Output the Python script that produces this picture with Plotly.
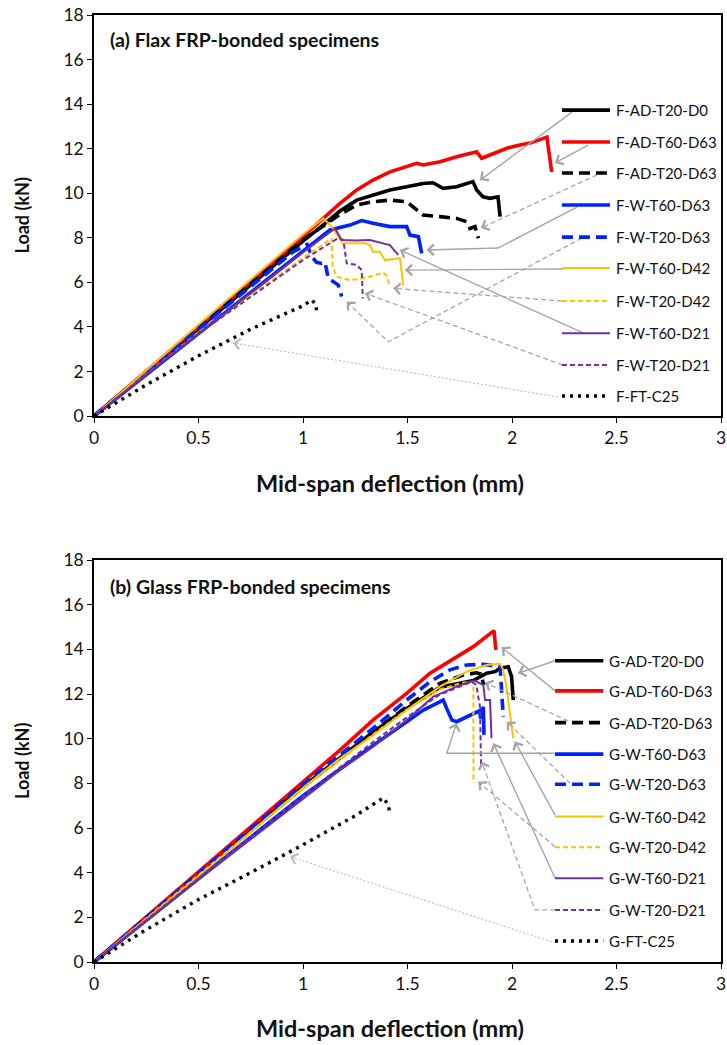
import math
import plotly.graph_objects as go

# ---------------- DATA ----------------
# Panel (a) Flax FRP-bonded specimens: mid-span deflection (mm) / load (kN)
f_ad_t20_d0_x = [0, 0.5, 1.0, 1.1, 1.177, 1.257, 1.335, 1.416, 1.496, 1.574, 1.622, 1.67, 1.735, 1.813, 1.831, 1.861, 1.895, 1.933, 1.943]
f_ad_t20_d0_y = [0, 3.95, 7.85, 8.6, 9.2, 9.69, 9.92, 10.14, 10.29, 10.44, 10.47, 10.22, 10.29, 10.52, 10.14, 9.84, 9.77, 9.84, 8.95]

f_ad_t60_d63_x = [0, 0.5, 1.0, 1.097, 1.177, 1.257, 1.335, 1.416, 1.496, 1.544, 1.574, 1.656, 1.735, 1.831, 1.855, 1.895, 1.975, 2.038, 2.086, 2.167, 2.19]
f_ad_t60_d63_y = [0, 4.0, 8.05, 8.87, 9.55, 10.15, 10.59, 10.96, 11.19, 11.34, 11.27, 11.41, 11.64, 11.86, 11.57, 11.71, 12.02, 12.16, 12.25, 12.52, 10.95]

f_ad_t20_d63_x = [0, 0.5, 1.0, 1.177, 1.257, 1.335, 1.416, 1.496, 1.544, 1.574, 1.656, 1.735, 1.783, 1.799, 1.823, 1.839]
f_ad_t20_d63_y = [0, 3.95, 7.9, 9.05, 9.47, 9.62, 9.69, 9.62, 9.25, 9.02, 8.95, 8.87, 8.72, 8.42, 8.50, 7.98]

f_w_t60_d63_x = [0, 0.5, 1.0, 1.129, 1.225, 1.281, 1.335, 1.416, 1.496, 1.512, 1.552, 1.568]
f_w_t60_d63_y = [0, 3.7, 7.4, 8.35, 8.57, 8.77, 8.65, 8.50, 8.50, 8.12, 8.05, 7.30]

f_w_t20_d63_x = [0, 0.5, 0.95, 1.02, 1.042, 1.065, 1.089, 1.105, 1.121, 1.144, 1.169, 1.185]
f_w_t20_d63_y = [0, 3.9, 7.35, 7.7, 7.15, 6.9, 6.85, 6.9, 6.18, 6.03, 5.88, 5.36]

f_w_t60_d42_x = [0, 0.5, 1.0, 1.097, 1.137, 1.177, 1.19, 1.273, 1.30, 1.32, 1.335, 1.368, 1.38, 1.392, 1.464, 1.48]
f_w_t60_d42_y = [0, 4.1, 8.15, 8.87, 8.50, 7.90, 7.75, 7.75, 7.75, 7.67, 7.37, 7.37, 7.2, 7.0, 7.08, 5.88]

f_w_t20_d42_x = [0, 0.5, 1.0, 1.137, 1.142, 1.161, 1.225, 1.289, 1.384, 1.40, 1.416]
f_w_t20_d42_y = [0, 3.75, 7.1, 7.97, 6.70, 6.25, 6.10, 6.18, 6.43, 6.3, 5.80]

f_w_t60_d21_x = [0, 0.5, 1.0, 1.153, 1.185, 1.25, 1.32, 1.416, 1.44, 1.456]
f_w_t60_d21_y = [0, 3.7, 7.35, 8.42, 7.90, 7.88, 7.9, 7.67, 7.4, 7.23]

f_w_t20_d21_x = [0, 0.5, 1.0, 1.17, 1.193, 1.209, 1.257, 1.281, 1.286]
f_w_t20_d21_y = [0, 3.7, 7.0, 8.0, 7.90, 6.85, 6.78, 6.55, 5.28]

f_ft_c25_x = [0, 0.25, 0.5, 0.75, 1.0, 1.042, 1.062, 1.066]
f_ft_c25_y = [0, 1.4, 2.7, 3.9, 4.95, 5.21, 5.0, 4.56]

# Panel (b) Glass FRP-bonded specimens
g_ad_t20_d0_x = [0, 0.5, 1.0, 1.336, 1.496, 1.655, 1.735, 1.815, 1.879, 1.919, 1.942, 1.982, 1.998, 2.006]
g_ad_t20_d0_y = [0, 3.95, 7.85, 10.3, 11.35, 12.3, 12.47, 12.6, 12.93, 13.0, 13.15, 13.22, 12.78, 11.73]

g_ad_t60_d63_x = [0, 0.5, 1.0, 1.177, 1.336, 1.496, 1.608, 1.735, 1.815, 1.914, 1.923]
g_ad_t60_d63_y = [0, 4.05, 8.1, 9.49, 10.84, 12.03, 12.93, 13.67, 14.12, 14.84, 13.97]

g_ad_t20_d63_x = [0, 0.5, 1.0, 1.336, 1.496, 1.655, 1.767, 1.83, 1.85, 1.865]
g_ad_t20_d63_y = [0, 3.95, 7.85, 10.31, 11.43, 12.48, 12.85, 12.95, 12.9, 12.4]

g_w_t60_d63_x = [0, 0.5, 1.0, 1.336, 1.496, 1.576, 1.64, 1.671, 1.69, 1.712, 1.735, 1.799, 1.831, 1.845, 1.85, 1.863, 1.866]
g_w_t60_d63_y = [0, 3.75, 7.45, 9.7, 10.75, 11.28, 11.58, 11.73, 11.3, 10.84, 10.76, 11.06, 11.21, 11.25, 10.9, 11.43, 10.17]

g_w_t20_d63_x = [0, 0.5, 1.0, 1.177, 1.336, 1.496, 1.608, 1.703, 1.783, 1.863, 1.943, 1.951, 1.958]
g_w_t20_d63_y = [0, 4.0, 7.95, 9.27, 10.47, 11.73, 12.55, 13.08, 13.30, 13.33, 13.22, 12.03, 10.99]

g_w_t60_d42_x = [0, 0.5, 1.0, 1.177, 1.336, 1.496, 1.655, 1.783, 1.878, 1.943, 1.955, 1.971, 2.006]
g_w_t60_d42_y = [0, 3.85, 7.8, 9.12, 10.16, 11.28, 12.33, 13.0, 13.30, 13.35, 13.15, 12.48, 10.02]

g_w_t20_d42_x = [0, 0.5, 1.0, 1.336, 1.496, 1.655, 1.76, 1.815, 1.816]
g_w_t20_d42_y = [0, 3.9, 7.75, 10.2, 11.3, 12.2, 12.5, 12.55, 8.0]

g_w_t60_d21_x = [0, 0.5, 1.0, 1.177, 1.336, 1.496, 1.624, 1.735, 1.799, 1.82, 1.863, 1.871, 1.895, 1.902]
g_w_t60_d21_y = [0, 3.7, 7.3, 8.60, 9.64, 10.84, 11.88, 12.33, 12.55, 12.6, 12.4, 11.73, 11.73, 10.02]

g_w_t20_d21_x = [0, 0.5, 1.0, 1.336, 1.496, 1.65, 1.807, 1.83, 1.838, 1.847, 1.852]
g_w_t20_d21_y = [0, 3.75, 7.45, 9.85, 10.95, 11.95, 12.55, 12.4, 11.9, 11.43, 8.75]

g_ft_c25_x = [0, 0.25, 0.5, 0.75, 1.0, 1.25, 1.385, 1.41, 1.413]
g_ft_c25_y = [0, 1.45, 2.8, 4.0, 5.25, 6.55, 7.35, 7.0, 6.73]

top_names = ["F-AD-T20-D0", "F-AD-T60-D63", "F-AD-T20-D63", "F-W-T60-D63", "F-W-T20-D63",
             "F-W-T60-D42", "F-W-T20-D42", "F-W-T60-D21", "F-W-T20-D21", "F-FT-C25"]
bot_names = ["G-AD-T20-D0", "G-AD-T60-D63", "G-AD-T20-D63", "G-W-T60-D63", "G-W-T20-D63",
             "G-W-T60-D42", "G-W-T20-D42", "G-W-T60-D21", "G-W-T20-D21", "G-FT-C25"]
top_series = [(f_ad_t20_d0_x, f_ad_t20_d0_y), (f_ad_t60_d63_x, f_ad_t60_d63_y), (f_ad_t20_d63_x, f_ad_t20_d63_y),
              (f_w_t60_d63_x, f_w_t60_d63_y), (f_w_t20_d63_x, f_w_t20_d63_y), (f_w_t60_d42_x, f_w_t60_d42_y),
              (f_w_t20_d42_x, f_w_t20_d42_y), (f_w_t60_d21_x, f_w_t60_d21_y), (f_w_t20_d21_x, f_w_t20_d21_y),
              (f_ft_c25_x, f_ft_c25_y)]
bot_series = [(g_ad_t20_d0_x, g_ad_t20_d0_y), (g_ad_t60_d63_x, g_ad_t60_d63_y), (g_ad_t20_d63_x, g_ad_t20_d63_y),
              (g_w_t60_d63_x, g_w_t60_d63_y), (g_w_t20_d63_x, g_w_t20_d63_y), (g_w_t60_d42_x, g_w_t60_d42_y),
              (g_w_t20_d42_x, g_w_t20_d42_y), (g_w_t60_d21_x, g_w_t60_d21_y), (g_w_t20_d21_x, g_w_t20_d21_y),
              (g_ft_c25_x, g_ft_c25_y)]

x_ticks = [0, 0.5, 1, 1.5, 2, 2.5, 3]
x_tick_labels = ["0", "0.5", "1", "1.5", "2", "2.5", "3"]
y_ticks = [0, 2, 4, 6, 8, 10, 12, 14, 16, 18]

# ---------------- STYLES ----------------
styles = [
    dict(color="#000000", width=3.6, dash="solid"),
    dict(color="#ff0000", width=3.6, dash="solid"),
    dict(color="#000000", width=3.6, dash="11px,6px"),
    dict(color="#0022ff", width=3.6, dash="solid"),
    dict(color="#0022ff", width=3.6, dash="11px,6px"),
    dict(color="#ffc000", width=2.0, dash="solid"),
    dict(color="#ffc000", width=2.0, dash="5px,3px"),
    dict(color="#7030a0", width=2.0, dash="solid"),
    dict(color="#7030a0", width=2.0, dash="5px,3px"),
    dict(color="#000000", width=3.4, dash="3px,5px"),
]
arrow_kind = ["solid", "solid", "dash", "solid", "dash", "solid", "dash", "solid", "dash", "dot"]
arrow_style = {
    "solid": dict(color="#a6a6a6", width=1.4, dash="solid"),
    "dash": dict(color="#a6a6a6", width=1.3, dash="5px,3px"),
    "dot": dict(color="#bfbfbf", width=1.2, dash="2px,2px"),
}

# ---------------- LAYOUT GEOMETRY ----------------
W, H = 727, 1045
XPX0, XPX1 = 94, 721
TOP_PX = (15, 416)
BOT_PX = (560, 962)
XPU = (XPX1 - XPX0) / 3.0
YPU_TOP = (TOP_PX[1] - TOP_PX[0]) / 18.0
YPU_BOT = (BOT_PX[1] - BOT_PX[0]) / 18.0
XTITLE_CX = 390

# legend (inside plot, data units)
top_leg_x = (2.239, 2.469, 2.488)
top_leg_rows = [13.73, 12.30, 10.91, 9.47, 8.03, 6.64, 5.16, 3.72, 2.29, 0.90]
bot_leg_x = (2.206, 2.437, 2.453)
bot_leg_rows = [13.49, 12.14, 10.72, 9.31, 7.96, 6.51, 5.14, 3.75, 2.33, 0.94]

# callout arrows (paths from legend key to curve), data units
top_arrows = [
    ([2.287, 1.847], [13.64, 10.59]),
    ([2.364, 2.206], [12.16, 11.36]),
    ([2.407, 1.852], [10.82, 8.44]),
    ([2.311, 1.933, 1.592], [9.38, 7.54, 7.45]),
    ([2.335, 1.408, 1.209], [7.99, 3.33, 5.13]),
    ([2.244, 1.488], [6.60, 6.55]),
    ([2.239, 1.432], [5.16, 5.73]),
    ([2.340, 1.464], [3.73, 7.45]),
    ([2.244, 1.297], [2.29, 5.51]),
    ([2.22, 0.665], [0.85, 3.28]),
]
bot_arrows = [
    ([2.206, 2.030], [13.49, 12.93]),
    ([2.206, 1.951], [12.14, 14.09]),
    ([2.269, 1.871], [10.79, 12.51]),
    ([2.206, 1.688, 1.735], [9.35, 9.35, 10.69]),
    ([2.278, 1.975], [8.0, 10.76]),
    ([2.206, 2.014], [6.58, 9.87]),
    ([2.206, 1.839], [5.16, 8.07]),
    ([2.206, 1.911], [3.75, 9.79]),
    ([2.206, 2.11, 1.855], [2.33, 2.33, 8.97]),
    ([2.19, 0.938], [0.91, 4.72]),
]

FONT = "Lato, 'Open Sans', sans-serif"
TXT = "#111111"

fig = go.Figure()


def add_panel(series, names, leg_x, leg_rows, arrows, xa, ya, ypu):
    # curves
    for (xs, ys), st in zip(series, styles):
        fig.add_trace(go.Scatter(x=xs, y=ys, mode="lines", line=st, xaxis=xa, yaxis=ya,
                                 showlegend=False, hoverinfo="skip"))
    # arrows
    for (axs, ays), kind in zip(arrows, arrow_kind):
        st = arrow_style[kind]
        fig.add_trace(go.Scatter(x=axs, y=ays, mode="lines", line=st, xaxis=xa, yaxis=ya,
                                 showlegend=False, hoverinfo="skip"))
        xt, yt = axs[-1], ays[-1]
        xp, yp = axs[-2], ays[-2]
        dxp, dyp = (xt - xp) * XPU, (yt - yp) * ypu
        L = math.hypot(dxp, dyp)
        back = 6.0
        bx = xt - dxp / L * back / XPU
        by = yt - dyp / L * back / ypu
        fig.add_annotation(x=xt, y=yt, ax=bx, ay=by, xref=xa, yref=ya, axref=xa, ayref=ya,
                           text="", showarrow=True, arrowhead=4, arrowsize=1.6, arrowwidth=1.3,
                           arrowcolor=st["color"], standoff=0)
    # legend keys
    for name, st, row in zip(names, styles, leg_rows):
        fig.add_trace(go.Scatter(x=[leg_x[0], leg_x[1]], y=[row, row], mode="lines", line=st,
                                 xaxis=xa, yaxis=ya, showlegend=False, hoverinfo="skip"))
        fig.add_annotation(x=leg_x[2], y=row, xref=xa, yref=ya, text=name, showarrow=False,
                           xanchor="left", yanchor="middle", font=dict(family=FONT, size=15, color=TXT))


add_panel(top_series, top_names, top_leg_x, top_leg_rows, top_arrows, "x", "y", YPU_TOP)
add_panel(bot_series, bot_names, bot_leg_x, bot_leg_rows, bot_arrows, "x2", "y2", YPU_BOT)

xdom = [XPX0 / W, XPX1 / W]
axis_common = dict(showline=True, linecolor="black", linewidth=1.5, mirror=True, ticks="outside",
                   ticklen=5, tickwidth=1.3, tickcolor="black", showgrid=False, zeroline=False,
                   automargin=False,
                   tickfont=dict(family=FONT, size=17.5, color=TXT), fixedrange=True)

fig.update_layout(
    width=W, height=H, margin=dict(l=0, r=0, t=0, b=0, pad=0, autoexpand=False),
    paper_bgcolor="white", plot_bgcolor="white", showlegend=False,
    xaxis=dict(domain=xdom, range=[0, 3], tickvals=x_ticks, ticktext=x_tick_labels, anchor="y", **axis_common),
    yaxis=dict(domain=[1 - TOP_PX[1] / H, 1 - TOP_PX[0] / H], range=[0, 18], tickvals=y_ticks, anchor="x", **axis_common),
    xaxis2=dict(domain=xdom, range=[0, 3], tickvals=x_ticks, ticktext=x_tick_labels, anchor="y2", **axis_common),
    yaxis2=dict(domain=[1 - BOT_PX[1] / H, 1 - BOT_PX[0] / H], range=[0, 18], tickvals=y_ticks, anchor="x2", **axis_common),
)

title_font = dict(family=FONT, size=19.5, color=TXT)
# panel titles
fig.add_annotation(x=108 / W, y=1 - 40 / H, xref="paper", yref="paper", text="<b>(a) Flax FRP-bonded specimens</b>",
                   showarrow=False, xanchor="left", yanchor="middle", font=title_font)
fig.add_annotation(x=108 / W, y=1 - 586 / H, xref="paper", yref="paper", text="<b>(b) Glass FRP-bonded specimens</b>",
                   showarrow=False, xanchor="left", yanchor="middle", font=title_font)
# axis titles
for ymid_px, xt_px in [((TOP_PX[0] + TOP_PX[1]) / 2, 483), ((BOT_PX[0] + BOT_PX[1]) / 2, 1028)]:
    fig.add_annotation(x=22 / W, y=1 - ymid_px / H, xref="paper", yref="paper", text="<b>Load (kN)</b>",
                       textangle=-90, showarrow=False, xanchor="center", yanchor="middle",
                       font=dict(family=FONT, size=18, color=TXT))
    fig.add_annotation(x=XTITLE_CX / W, y=1 - xt_px / H, xref="paper", yref="paper",
                       text="<b>Mid-span deflection (mm)</b>", showarrow=False, xanchor="center",
                       yanchor="middle", font=dict(family=FONT, size=23.5, color=TXT))

fig.write_html("out.html", config={"responsive": False, "displayModeBar": False},
               post_script="document.body.style.margin='0';document.body.style.overflow='hidden';")
